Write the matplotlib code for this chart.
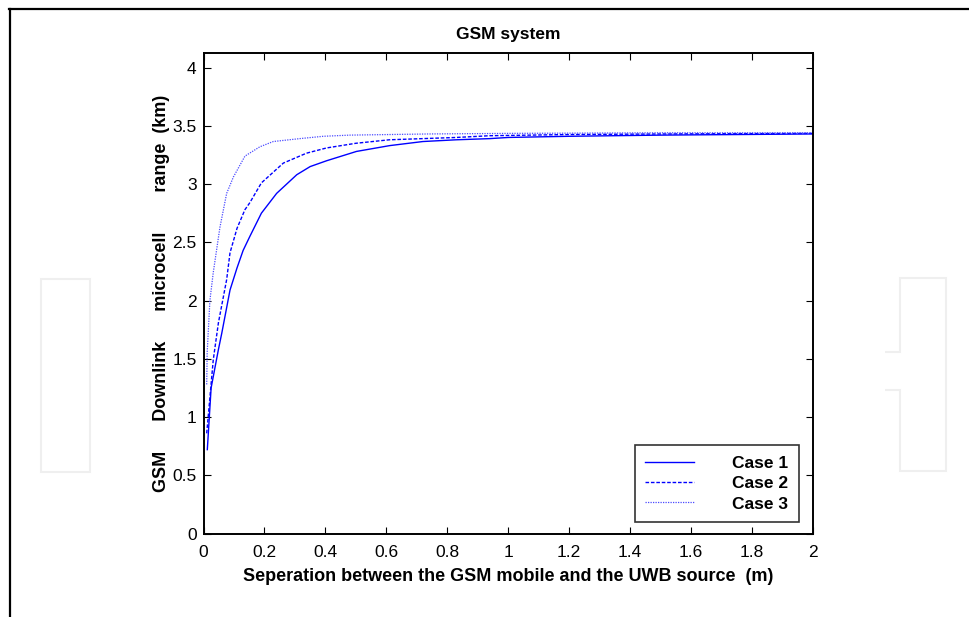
import matplotlib
matplotlib.use("Agg")
import matplotlib.pyplot as plt
from matplotlib.lines import Line2D
from matplotlib.patches import Rectangle, Polygon

plt.rcParams['font.family'] = ['Liberation Sans', 'DejaVu Sans']

# Data
x1 = [0.0125, 0.025, 0.049, 0.06, 0.087, 0.11, 0.13, 0.152, 0.19, 0.24, 0.306, 0.35, 0.404,
      0.502, 0.611, 0.72, 0.83, 0.94, 1.0, 1.2, 1.5, 1.75, 2.0]
y1 = [0.72, 1.25, 1.58, 1.72, 2.09, 2.28, 2.43, 2.55, 2.75, 2.92, 3.08, 3.15, 3.20,
      3.28, 3.33, 3.365, 3.38, 3.39, 3.40, 3.41, 3.42, 3.425, 3.43]

x2 = [0.0105, 0.032, 0.049, 0.076, 0.087, 0.11, 0.136, 0.152, 0.19, 0.262, 0.338, 0.404,
      0.50, 0.61, 0.83, 0.94, 1.2, 1.5, 2.0]
y2 = [0.86, 1.49, 1.81, 2.18, 2.41, 2.62, 2.78, 2.84, 3.01, 3.18, 3.265, 3.31,
      3.35, 3.38, 3.40, 3.415, 3.425, 3.43, 3.435]

x3 = [0.0105, 0.012, 0.021, 0.032, 0.054, 0.076, 0.098, 0.136, 0.185, 0.229, 0.316,
      0.393, 0.48, 0.74, 1.0, 1.5, 2.0]
y3 = [1.28, 1.55, 2.0, 2.24, 2.63, 2.92, 3.06, 3.24, 3.32, 3.365, 3.39,
      3.41, 3.42, 3.43, 3.435, 3.44, 3.44]

labels = ['Case 1', 'Case 2', 'Case 3']
xticks = [0, 0.2, 0.4, 0.6, 0.8, 1, 1.2, 1.4, 1.6, 1.8, 2]
xticklabels = ['0', '0.2', '0.4', '0.6', '0.8', '1', '1.2', '1.4', '1.6', '1.8', '2']
yticks = [0, 0.5, 1, 1.5, 2, 2.5, 3, 3.5, 4]
yticklabels = ['0', '0.5', '1', '1.5', '2', '2.5', '3', '3.5', '4']

W, H = 969, 617
fig = plt.figure(figsize=(W / 100, H / 100), dpi=100)

def fx(p):
    return p / W
def fy(p):
    return 1 - p / H

# Faint watermark shapes and page frame
wm = '#efefef'
fig.patches.append(Rectangle((fx(41), fy(472)), fx(90) - fx(41), fy(279) - fy(472),
                             transform=fig.transFigure, fill=False, edgecolor=wm, lw=1.5))
fig.patches.append(Polygon([(fx(885), fy(352)), (fx(900), fy(352)), (fx(900), fy(278)),
                            (fx(946), fy(278)), (fx(946), fy(471)), (fx(900), fy(471)),
                            (fx(900), fy(390)), (fx(885), fy(390))],
                           closed=False, transform=fig.transFigure, fill=False,
                           edgecolor=wm, lw=1.5))
fig.lines.append(Line2D([fx(9), fx(969)], [fy(8.5), fy(8.5)], transform=fig.transFigure,
                        color='black', lw=1.6))
fig.lines.append(Line2D([fx(10), fx(10)], [fy(8.5), fy(617)], transform=fig.transFigure,
                        color='black', lw=1.6))

ax = fig.add_axes([fx(203.5), fy(533.5), fx(813) - fx(203.5), fy(53) - fy(533.5)])
ax.plot(x1, y1, color='#0000ff', lw=1.0, ls='-', label=labels[0])
ax.plot(x2, y2, color='#0000ff', lw=1.0, ls=(0, (2.6, 1.3)), label=labels[1])
ax.plot(x3, y3, color='#4b4bff', lw=0.9, ls=(0, (1, 1)), label=labels[2])

ax.set_xlim(0, 2)
ax.set_ylim(0, 4.125)
ax.set_xticks(xticks)
ax.set_xticklabels(xticklabels)
ax.set_yticks(yticks)
ax.set_yticklabels(yticklabels)
ax.tick_params(axis='x', pad=8)
ax.tick_params(axis='y', pad=5)
ax.tick_params(direction='in', length=5, width=0.8, top=True, right=True,
               labelsize=12.5)
for s in ax.spines.values():
    s.set_linewidth(1.4)

ax.set_title('GSM system', fontsize=12.5, fontweight='bold', pad=10)
ax.set_xlabel('Seperation between the GSM mobile and the UWB source  (m)',
              fontsize=13, fontweight='bold', labelpad=6)
ax.set_ylabel('GSM      Downlink      microcell        range  (km)',
              fontsize=13, fontweight='bold', labelpad=1.5)

leg = ax.legend(loc='lower right', bbox_to_anchor=(0.9765, 0.024),
                prop={'weight': 'bold', 'size': 12.5}, frameon=True, fancybox=False,
                edgecolor='black', handlelength=2.8, handletextpad=2.2,
                labelspacing=0.3, borderpad=0.6, borderaxespad=0)
leg.get_frame().set_linewidth(1.2)

fig.savefig('out.png', dpi=100, facecolor='white')
